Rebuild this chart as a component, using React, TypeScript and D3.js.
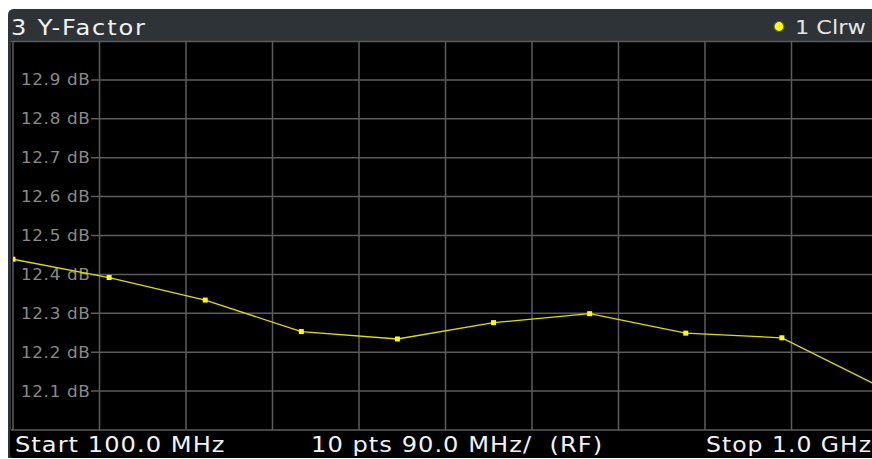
import React from 'react';
import * as d3 from 'd3';

// trace 1 (Clrw), 10 sweep points from 100 MHz to 1 GHz
const freqMHz = [100, 200, 300, 400, 500, 600, 700, 800, 900, 1000];
const yFactorDb = [12.439, 12.392, 12.334, 12.253, 12.234, 12.276, 12.299, 12.249, 12.237, 12.114];

const yTicks = [12.1, 12.2, 12.3, 12.4, 12.5, 12.6, 12.7, 12.8, 12.9];
const xDivs = d3.range(0, 11).map((k) => 100 + 90 * k);

const title = '3 Y-Factor';
const traceLabel = '1 Clrw';
const footer = ['Start 100.0 MHz', '10 pts 90.0 MHz/  (RF)', 'Stop 1.0 GHz'];

const W = 872;
const H = 459;
const plot = { left: 13, right: 878, top: 41, bottom: 430 };
const font = '"DejaVu Sans", Verdana, sans-serif';

// the instrument font is wide, so stretch the glyphs a little
const Wide = ({
  x,
  y,
  sx = 1.15,
  anchor = 'start',
  children,
}: {
  x: number;
  y: number;
  sx?: number;
  anchor?: string;
  children: string;
}) => (
  <text
    transform={`translate(${x},${y}) scale(${sx},1)`}
    textAnchor={anchor}
    style={{ whiteSpace: 'pre' }}
  >
    {children}
  </text>
);

export default function App() {
  const x = d3.scaleLinear().domain([100, 1000]).range([plot.left, plot.right]);
  const y = d3.scaleLinear().domain([12, 13]).range([plot.bottom, plot.top]);

  const points = freqMHz.map((f, i) => ({ f, v: yFactorDb[i] }));
  const line = d3
    .line<{ f: number; v: number }>()
    .x((d) => x(d.f))
    .y((d) => y(d.v));

  return (
    <svg
      width={W}
      height={H}
      style={{ position: 'absolute', left: 0, top: 0, background: '#fff' }}
    >
      <defs>
        <clipPath id="plotClip">
          <rect x={plot.left} y={plot.top} width={W - plot.left} height={plot.bottom - plot.top} />
        </clipPath>
      </defs>

      {/* title bar + frame */}
      <path d={`M8,${H - 1} L8,15 Q8,9 14,9 L${W},9 L${W},${H - 1} Z`} fill="#2e3337" />
      <rect x={11} y={plot.top} width={W - 11} height={plot.bottom - plot.top} fill="#000" />
      <path
        d={`M10,${plot.bottom} L${W},${plot.bottom} L${W},${H - 1} L14,${H - 1} Q10,${H - 1} 10,${H - 5} Z`}
        fill="#000"
      />

      {/* grid */}
      <g stroke="#5c5c5c" strokeWidth={1.5}>
        {xDivs.map((f) => (
          <line key={f} x1={x(f)} x2={x(f)} y1={plot.top} y2={plot.bottom} />
        ))}
        <line x1={11} x2={W} y1={plot.top + 0.5} y2={plot.top + 0.5} />
        <line x1={11} x2={W} y1={plot.bottom} y2={plot.bottom} />
        {yTicks.map((v) => (
          <line key={v} x1={91} x2={W} y1={y(v)} y2={y(v)} />
        ))}
      </g>

      {/* y labels */}
      <g fill="#8a8a8a" fontFamily={font} fontSize={15} style={{ letterSpacing: '0.6px' }}>
        {yTicks.map((v) => (
          <Wide key={v} x={90.5} y={y(v) + 5.5} sx={1.12} anchor="end">
            {`${v.toFixed(1)} dB`}
          </Wide>
        ))}
      </g>

      {/* trace */}
      <g clipPath="url(#plotClip)">
        <path d={line(points) ?? ''} fill="none" stroke="#dede00" strokeWidth={1.3} />
        {points.map((d) => (
          <rect key={d.f} x={x(d.f) - 2.5} y={y(d.v) - 2.5} width={5} height={5} fill="#ffff00" />
        ))}
      </g>

      {/* header */}
      <g fill="#f2f2f2" fontFamily={font} fontSize={21} style={{ letterSpacing: '1.6px' }}>
        <Wide x={11} y={35}>{title}</Wide>
      </g>
      <circle cx={779} cy={26.5} r={5} fill="#ffff00" stroke="#555" strokeWidth={1.2} />
      <g fill="#e6e6e6" fontFamily={font} fontSize={20}>
        <Wide x={795} y={34} sx={1.12}>{traceLabel}</Wide>
      </g>

      {/* footer */}
      <g fill="#f2f2f2" fontFamily={font} fontSize={21} style={{ letterSpacing: '0.9px' }}>
        <Wide x={15} y={452}>{footer[0]}</Wide>
        <Wide x={311} y={452}>{footer[1]}</Wide>
        <Wide x={706} y={452} sx={1.12}>{footer[2]}</Wide>
      </g>
    </svg>
  );
}
